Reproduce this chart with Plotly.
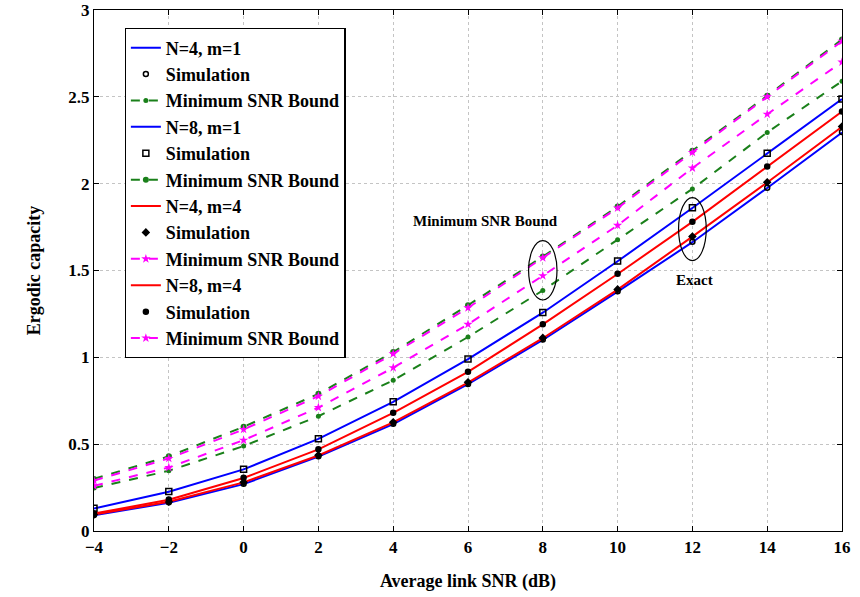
import plotly.graph_objects as go

snr = [-4, -2, 0, 2, 4, 6, 8, 10, 12, 14, 16]

# Exact (solid lines)
exact_N4m1 = [0.090, 0.163, 0.270, 0.428, 0.615, 0.845, 1.100, 1.378, 1.663, 1.975, 2.295]
exact_N8m1 = [0.130, 0.226, 0.355, 0.530, 0.743, 0.990, 1.257, 1.553, 1.860, 2.174, 2.487]
exact_N4m4 = [0.095, 0.168, 0.280, 0.435, 0.625, 0.855, 1.110, 1.390, 1.695, 2.007, 2.328]
exact_N8m4 = [0.100, 0.180, 0.305, 0.470, 0.680, 0.916, 1.190, 1.480, 1.780, 2.098, 2.415]

# Simulation points
sim_N4m1 = [0.092, 0.165, 0.272, 0.430, 0.617, 0.846, 1.102, 1.380, 1.665, 1.977, 2.297]
sim_N8m1 = [0.131, 0.227, 0.356, 0.531, 0.744, 0.991, 1.258, 1.554, 1.861, 2.175, 2.488]
sim_N4m4 = [0.096, 0.169, 0.281, 0.436, 0.626, 0.856, 1.112, 1.391, 1.696, 2.008, 2.329]
sim_N8m4 = [0.101, 0.181, 0.306, 0.471, 0.681, 0.917, 1.191, 1.481, 1.781, 2.099, 2.416]

# Minimum SNR bounds (dashed)
bound_N4m1 = [0.247, 0.347, 0.489, 0.661, 0.868, 1.117, 1.385, 1.677, 1.970, 2.295, 2.590]
bound_N8m1 = [0.300, 0.430, 0.600, 0.790, 1.030, 1.300, 1.580, 1.868, 2.190, 2.506, 2.830]
bound_N4m4 = [0.260, 0.366, 0.523, 0.711, 0.940, 1.190, 1.470, 1.760, 2.090, 2.400, 2.700]
bound_N8m4 = [0.290, 0.418, 0.585, 0.776, 1.020, 1.285, 1.573, 1.860, 2.180, 2.500, 2.820]

x_ticks = [-4, -2, 0, 2, 4, 6, 8, 10, 12, 14, 16]
y_ticks = [0, 0.5, 1, 1.5, 2, 2.5, 3]
y_ticklabels = ["0", "0.5", "1", "1.5", "2", "2.5", "3"]

BLUE = "#0000ff"
RED = "#ff0000"
GREEN = "#1a801a"
MAGENTA = "#ff00ff"
FONT = "Liberation Serif"

fig = go.Figure()

def exact(y, color, name):
    fig.add_trace(go.Scatter(x=snr, y=y, mode="lines", name=name,
                             line=dict(color=color, width=2)))

def sim(y, symbol, size, filled):
    fig.add_trace(go.Scatter(x=snr, y=y, mode="markers", name="Simulation",
                             marker=dict(symbol=symbol, size=size,
                                         color="black" if filled else "rgba(0,0,0,0)",
                                         line=dict(color="black", width=1.5))))

def bound(y, color, symbol, size):
    fig.add_trace(go.Scatter(x=snr, y=y, mode="lines+markers", name="Minimum SNR Bound",
                             line=dict(color=color, width=2, dash="dash"),
                             marker=dict(symbol=symbol, size=size, color=color)))

exact(exact_N4m1, BLUE, "N=4, m=1")
sim(sim_N4m1, "circle", 5, False)
bound(bound_N4m1, GREEN, "circle", 5)
exact(exact_N8m1, BLUE, "N=8, m=1")
sim(sim_N8m1, "square", 6, False)
bound(bound_N8m1, GREEN, "circle", 6)
exact(exact_N4m4, RED, "N=4, m=4")
sim(sim_N4m4, "diamond", 5, True)
bound(bound_N4m4, MAGENTA, "star", 7)
exact(exact_N8m4, RED, "N=8, m=4")
sim(sim_N8m4, "circle", 5, True)
bound(bound_N8m4, MAGENTA, "star", 7)

# ellipses and annotations
fig.add_shape(type="circle", xref="x", yref="y", x0=7.62, x1=8.38, y0=1.33, y1=1.672,
              line=dict(color="black", width=1.2))
fig.add_shape(type="circle", xref="x", yref="y", x0=11.63, x1=12.37, y0=1.557, y1=1.92,
              line=dict(color="black", width=1.2))
fig.add_annotation(x=6.48, y=1.787, text="<b>Minimum SNR Bound</b>", showarrow=False,
                   font=dict(family=FONT, size=15, color="black"))
fig.add_annotation(x=12.05, y=1.448, text="<b>Exact</b>", showarrow=False,
                   font=dict(family=FONT, size=15, color="black"))

axis_common = dict(showline=True, linecolor="black", linewidth=1.2, mirror="ticks",
                   ticks="inside", ticklen=5, tickcolor="black",
                   showgrid=True, gridcolor="#c4c4c4", griddash="dot", gridwidth=1,
                   zeroline=False, automargin=False,
                   tickfont=dict(family=FONT, size=17, color="black", weight="bold"))

fig.update_xaxes(range=[-4, 16], tickvals=x_ticks,
                 title=dict(text="<b>Average link SNR (dB)</b>",
                            font=dict(family=FONT, size=18, color="black"), standoff=18),
                 **axis_common)
fig.update_yaxes(range=[0, 3], tickvals=y_ticks, ticktext=y_ticklabels,
                 title=dict(text="<b>Ergodic capacity</b>",
                            font=dict(family=FONT, size=18, color="black"), standoff=22),
                 **axis_common)

fig.update_layout(
    width=860, height=597,
    margin=dict(l=94, r=18, t=10, b=66),
    paper_bgcolor="white", plot_bgcolor="white",
    showlegend=True,
    legend=dict(x=0.041, y=0.965, xanchor="left", yanchor="top",
                bgcolor="white", bordercolor="black", borderwidth=1.2,
                font=dict(family=FONT, size=18, color="black", weight="bold"),
                itemwidth=30, tracegroupgap=0),
)

fig.write_html("out.html")
